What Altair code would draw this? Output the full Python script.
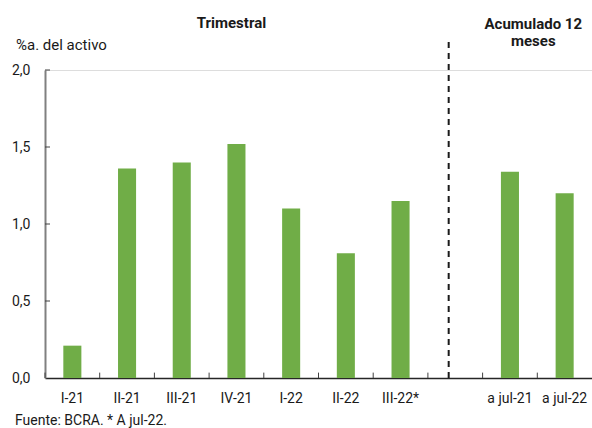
import altair as alt
import pandas as pd

categories = ["I-21", "II-21", "III-21", "IV-21", "I-22", "II-22", "III-22*", " ", "a jul-21", "a jul-22"]
bar_categories = ["I-21", "II-21", "III-21", "IV-21", "I-22", "II-22", "III-22*", "a jul-21", "a jul-22"]
values = [0.21, 1.36, 1.40, 1.52, 1.10, 0.81, 1.15, 1.34, 1.20]
y_ticks = [0.0, 0.5, 1.0, 1.5, 2.0]

GREEN = "#70AD47"
TXT = "#1a1a1a"
FONT = "Roboto"

bars_df = pd.DataFrame({"cat": bar_categories, "val": values})
cats_df = pd.DataFrame({"cat": categories})
yt_df = pd.DataFrame({"v": y_ticks[1:]})

xscale = alt.Scale(domain=categories, paddingInner=0, paddingOuter=0)
yscale = alt.Scale(domain=[0, 2])

bars = alt.Chart(bars_df).mark_bar(color=GREEN, width=alt.RelativeBandSize(0.33)).encode(
    x=alt.X("cat:N", scale=xscale, sort=categories, title=None,
            axis=alt.Axis(labelAngle=0, ticks=False, domainColor="#262626", domainWidth=1.5,
                          labelFont=FONT, labelFontSize=14, labelColor=TXT, labelPadding=13)),
    y=alt.Y("val:Q", scale=yscale, title=None,
            axis=alt.Axis(values=y_ticks, ticks=False, grid=False, domainColor="#808080", domainWidth=2,
                          labelFont=FONT, labelFontSize=14, labelColor=TXT, labelPadding=15,
                          labelExpr="replace(format(datum.value, '.1f'), '.', ',')")),
)

xticks = alt.Chart(cats_df).mark_rule(color="#404040", strokeWidth=1).encode(
    x=alt.X("cat:N", scale=xscale, sort=categories, bandPosition=0),
    y=alt.datum(0),
    y2=alt.datum(0.035),
)

yticks = alt.Chart(yt_df).mark_rule(color="#404040", strokeWidth=1).encode(
    y=alt.Y("v:Q", scale=yscale),
    x=alt.value(0),
    x2=alt.value(5),
)

divider = alt.Chart(pd.DataFrame({"cat": [" "]})).mark_rule(
    color="#1a1a1a", strokeWidth=2, strokeDash=[6, 5]
).encode(
    x=alt.X("cat:N", scale=xscale, sort=categories, bandPosition=0.38),
    y=alt.datum(0),
    y2=alt.datum(2.2),
)

trim = alt.Chart(pd.DataFrame({"cat": ["IV-21"]})).mark_text(
    text="Trimestral", font=FONT, fontSize=15, fontWeight="bold", color=TXT, baseline="alphabetic", dx=-5
).encode(x=alt.X("cat:N", scale=xscale, sort=categories), y=alt.value(-42))

acum = alt.Chart(pd.DataFrame({"cat": ["a jul-21"]})).mark_text(
    text="Acumulado 12\nmeses", lineBreak="\n", lineHeight=17, font=FONT, fontSize=15,
    fontWeight="bold", color=TXT, baseline="alphabetic", dx=-4
).encode(x=alt.X("cat:N", scale=xscale, sort=categories, bandPosition=1), y=alt.value(-41))

ylabel = alt.Chart(pd.DataFrame({"a": [0]})).mark_text(
    text="%a. del activo", font=FONT, fontSize=15, color=TXT, align="left", baseline="alphabetic"
).encode(x=alt.value(-29), y=alt.value(-20))

footer = alt.Chart(pd.DataFrame({"a": [0]})).mark_text(
    text="Fuente: BCRA. * A jul-22.", font=FONT, fontSize=14, color=TXT, align="left", baseline="alphabetic"
).encode(x=alt.value(-30), y=alt.value(355))

chart = alt.layer(bars, xticks, yticks, divider, trim, acum, ylabel, footer).properties(
    width=547, height=308,
    autosize=alt.AutoSizeParams(type="none"),
    padding={"left": 45, "top": 70, "right": 0, "bottom": 50},
).configure_view(stroke=None).configure(background="white")

chart.save("out.html", embed_options={"renderer": "svg", "actions": False})
